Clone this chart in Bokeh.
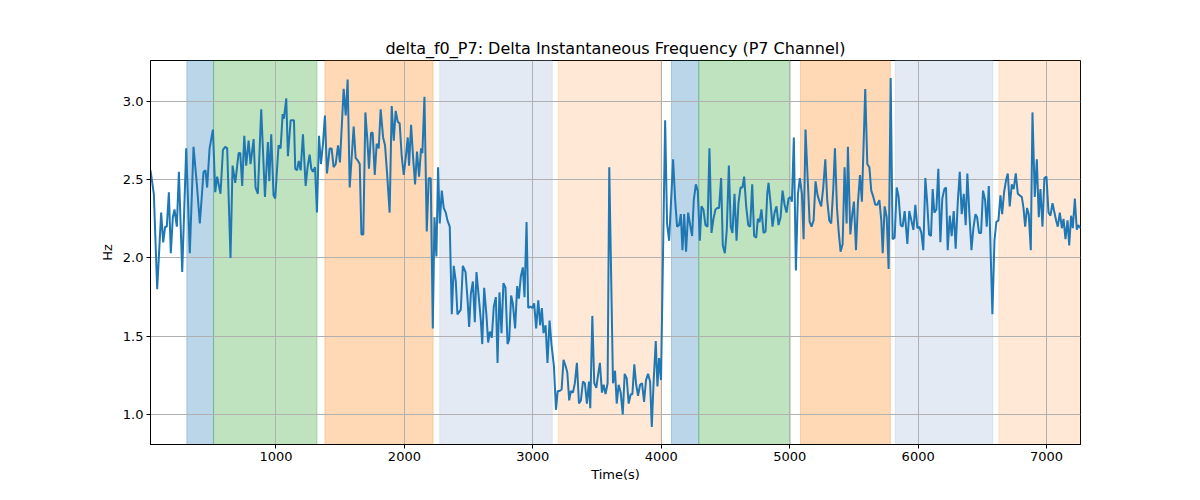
from bokeh.plotting import figure
from bokeh.models import ColumnDataSource, Range1d, BoxAnnotation, FixedTicker, PrintfTickFormatter
from bokeh.embed import file_html
from bokeh.resources import INLINE

# Time axis (s) and delta f0 (Hz)
time_s = [
    23, 49, 75, 106, 122, 137, 150, 166, 181, 197,
    210, 228, 244, 270, 301, 329, 358, 384, 407, 436,
    451, 464, 483, 509, 527, 542, 568, 587, 605, 620,
    646, 662, 683, 709, 722, 737, 753, 768, 787, 802,
    826, 841, 859, 885, 914, 937, 948, 963, 981, 994,
    1020, 1036, 1052, 1062, 1080, 1093, 1114, 1140, 1150, 1164,
    1177, 1192,
    1210, 1231, 1246, 1262, 1275, 1288, 1304, 1319, 1335, 1350,
    1366, 1381, 1397, 1418, 1433, 1449, 1465, 1483, 1498, 1527,
    1543, 1558, 1574, 1605, 1620, 1639, 1652, 1665, 1680, 1696,
    1711, 1724, 1740, 1753, 1769, 1784, 1800, 1815, 1834, 1849,
    1865, 1885, 1901, 1917, 1932, 1948, 1963, 1979, 1995, 2010,
    2026, 2036, 2052, 2067, 2083, 2098, 2114, 2130, 2140, 2156,
    2174, 2189, 2205, 2221, 2234, 2249, 2262, 2275, 2291, 2306,
    2322, 2335, 2353, 2369, 2384, 2400, 2413,
    2439, 2455, 2476, 2491, 2504, 2517, 2533, 2548, 2561, 2579,
    2595, 2606, 2621, 2639, 2652, 2665, 2680, 2696, 2712, 2725,
    2740, 2756, 2771, 2787, 2803, 2816, 2831, 2844, 2862, 2878,
    2891, 2906, 2922, 2935, 2951, 2964, 2979, 2995, 3010, 3026,
    3042, 3057, 3070, 3083, 3099, 3114, 3130, 3146, 3164, 3180,
    3193, 3208, 3224, 3239, 3255, 3268, 3283, 3296, 3312, 3327,
    3343, 3359, 3374, 3390, 3405, 3421, 3437, 3447, 3463, 3478,
    3494, 3509, 3522, 3538, 3551, 3566, 3582, 3595,
    3624, 3640, 3653, 3668, 3684, 3700, 3715, 3731, 3746, 3762,
    3775, 3790, 3803, 3819, 3835, 3850, 3866, 3881, 3897, 3913,
    3926, 3941, 3957, 3970, 3983, 3998, 4030, 4045, 4061, 4092,
    4108, 4123, 4139, 4152, 4165, 4178, 4193, 4209, 4225, 4240,
    4253, 4269, 4284, 4300, 4313, 4328, 4344, 4360, 4375, 4391,
    4406, 4422, 4438, 4450, 4466, 4479, 4495, 4510, 4526, 4541,
    4554, 4570, 4586, 4601, 4617, 4632, 4645, 4661, 4677, 4692,
    4708, 4723, 4739, 4752, 4765, 4780, 4796, 4812, 4825,
    4835, 4851, 4866, 4882, 4897, 4913, 4929, 4944, 4960, 4975,
    4991, 5006, 5017, 5032, 5048, 5064, 5079, 5095, 5108, 5123,
    5139, 5155, 5170, 5186, 5201, 5217, 5232, 5245, 5261, 5277,
    5292, 5308, 5323, 5339, 5352, 5368, 5381, 5396, 5412, 5427,
    5443, 5453, 5472, 5487, 5500, 5516, 5531, 5547, 5562, 5588,
    5604, 5620, 5635, 5651, 5666, 5682, 5698, 5713, 5724, 5739,
    5755, 5770, 5786, 5801, 5817, 5833, 5848, 5864, 5879, 5895,
    5916, 5931, 5947, 5963, 5978, 5994, 6009, 6025, 6040,
    6056, 6069, 6085, 6100, 6113, 6126, 6142, 6157, 6173, 6188,
    6204, 6217, 6230, 6246, 6261, 6277, 6292, 6308, 6324, 6339,
    6355, 6370, 6383, 6399, 6415, 6430, 6446, 6459, 6474, 6490,
    6505, 6521, 6534, 6550, 6578, 6594, 6609, 6625, 6641, 6654,
    6669, 6685, 6698, 6713, 6729, 6744, 6760, 6776, 6791, 6807,
    6820, 6833, 6848, 6861, 6877, 6890, 6908, 6924, 6939, 6952,
    6968, 6983, 6999, 7015, 7030, 7046, 7061, 7074, 7087, 7103,
    7119, 7132, 7147, 7163, 7176, 7191, 7204, 7220, 7235, 7246,
    7264,
]

delta_f0 = [
    2.56, 2.41, 1.80, 2.29, 2.10, 2.20, 2.20, 2.42, 2.03, 2.26,
    2.31, 2.20, 2.55, 1.91, 2.70, 2.03, 2.71, 2.47, 2.22, 2.55,
    2.56, 2.45, 2.70, 2.82, 2.42, 2.52, 2.41, 2.69, 2.71, 2.70,
    2.00, 2.59, 2.48, 2.67, 2.67, 2.46, 2.78, 2.59, 2.75, 2.60,
    2.76, 2.45, 2.41, 2.95, 2.39, 2.74, 2.49, 2.79, 2.40, 2.38,
    2.72, 2.70, 2.92, 2.89, 3.02, 2.65, 2.88, 2.88, 2.57, 2.56,
    2.62, 2.56,
    2.79, 2.46, 2.58, 2.66, 2.57, 2.55, 2.58, 2.29, 2.78, 2.60,
    2.73, 2.91, 2.54, 2.70, 2.70, 2.58, 2.60, 2.72, 2.61, 3.08,
    2.91, 3.14, 2.45, 2.84, 2.64, 2.62, 2.60, 2.15, 2.15, 2.93,
    2.76, 2.57, 2.80, 2.80, 2.53, 2.73, 2.70, 2.95, 2.77, 2.72,
    2.54, 2.29, 2.97, 2.75, 2.94, 2.87, 2.86, 2.65, 2.53, 2.64,
    2.77, 2.59, 2.85, 2.65, 2.47, 2.68, 2.52, 2.70, 2.67, 3.03,
    2.17, 2.51, 2.51, 1.55, 2.26, 2.01, 2.58, 2.22, 2.43, 2.32,
    2.29, 2.24, 2.20, 1.64, 1.95, 1.85, 1.64,
    1.67, 1.95, 1.91, 1.74, 1.56, 1.77, 1.85, 1.59, 1.91, 1.75,
    1.60, 1.45, 1.81, 1.63, 1.46, 1.53, 1.49, 1.69, 1.75, 1.33,
    1.78, 1.52, 1.84, 1.81, 1.45, 1.48, 1.76, 1.71, 1.55, 1.82,
    1.74, 1.88, 1.94, 1.75, 2.23, 1.68, 1.69, 1.68, 1.71, 1.55,
    1.73, 1.57, 1.68, 1.52, 1.57, 1.33, 1.60, 1.44, 1.31, 1.03,
    1.15, 1.15, 1.16, 1.35, 1.31, 1.27, 1.09, 1.15, 1.14, 1.20,
    1.33, 1.07, 1.09, 1.21, 1.20, 1.07, 1.21, 1.04, 1.63, 1.20,
    1.17, 1.26, 1.33, 1.14, 1.19, 1.13, 1.20, 2.58,
    1.20, 1.28, 1.07, 1.19, 1.14, 1.00, 1.26, 1.23, 1.07, 1.13,
    1.13, 1.32, 1.20, 1.12, 1.19, 1.20, 1.08, 1.22, 1.26, 1.21,
    0.92, 1.22, 1.47, 1.18, 1.36, 1.22, 2.88, 2.22, 2.11, 2.63,
    2.37, 2.20, 2.21, 2.28, 2.05, 2.28, 2.04, 2.29, 2.21, 2.14,
    2.37, 2.47, 2.43, 2.11, 2.33, 2.31, 2.21, 2.20, 2.70, 2.16,
    2.25, 2.31, 2.32, 2.32, 2.51, 2.08, 2.03, 2.18, 2.59, 2.20,
    2.16, 2.41, 2.11, 2.35, 2.45, 2.45, 2.52, 2.33, 2.21, 2.20,
    2.47, 2.14, 2.13, 2.25, 2.23, 2.31, 2.16, 2.17, 2.41,
    2.48, 2.35, 2.20, 2.29, 2.33, 2.21, 2.26, 2.43, 2.34, 2.29,
    2.38, 2.39, 2.36, 2.77, 1.92, 2.41, 2.51, 2.41, 2.12, 2.82,
    2.52, 2.23, 2.20, 2.24, 2.49, 2.40, 2.36, 2.33, 2.45, 2.63,
    2.37, 2.24, 2.22, 2.44, 2.70, 2.32, 2.17, 2.04, 2.09, 2.58,
    2.22, 2.71, 2.15, 2.28, 2.36, 2.05, 2.35, 2.53, 2.36, 3.08,
    2.60, 2.58, 2.43, 2.39, 2.34, 2.34, 2.37, 2.24, 2.03, 2.33,
    2.26, 1.93, 3.15, 2.12, 2.13, 2.45, 2.39, 2.21, 2.20, 2.30,
    2.09, 2.30, 2.24, 2.18, 2.34, 2.19, 2.20, 2.16, 2.05,
    2.51, 2.37, 2.15, 2.14, 2.44, 2.29, 2.31, 2.57, 2.10, 2.38,
    2.44, 2.45, 2.05, 2.27, 2.14, 2.30, 2.06, 2.35, 2.55, 2.28,
    2.41, 2.21, 2.54, 2.28, 2.05, 2.19, 2.28, 2.26, 2.16, 2.16,
    2.43, 2.37, 2.20, 2.46, 1.64, 2.11, 2.23, 2.24, 2.40, 2.28,
    2.42, 2.50, 2.54, 2.33, 2.47, 2.44, 2.54, 2.41, 2.40, 2.39,
    2.32, 2.20, 2.32, 2.28, 2.05, 2.93, 2.39, 2.63, 2.26, 2.44,
    2.20, 2.51, 2.52, 2.29, 2.27, 2.35, 2.29, 2.24, 2.20, 2.29,
    2.19, 2.25, 2.12, 2.24, 2.08, 2.27, 2.19, 2.38, 2.18, 2.21,
    2.19,
]

# shaded phases
phase_start = [306, 514, 1381, 2275, 3198, 4079, 4292, 5084, 5822, 6628]
phase_end = [514, 1319, 2223, 3151, 3998, 4292, 5004, 5783, 6581, 7300]
phase_color = ["#1f77b4", "#2ca02c", "#ff7f0e", "#b0c4de", "#ff7f0e",
               "#1f77b4", "#2ca02c", "#ff7f0e", "#b0c4de", "#ff7f0e"]
phase_alpha = [0.3, 0.3, 0.3, 0.35, 0.17, 0.3, 0.3, 0.3, 0.35, 0.17]

x_ticks = [1000, 2000, 3000, 4000, 5000, 6000, 7000]
y_ticks = [1.0, 1.5, 2.0, 2.5, 3.0]

lo, hi = min(delta_f0), max(delta_f0)
pad = (hi - lo) * 0.05

p = figure(width=1184, height=484, output_backend="svg", toolbar_location=None,
           x_range=Range1d(time_s[0], time_s[-1]),
           y_range=Range1d(lo - pad, hi + pad),
           min_border_left=150, min_border_right=104,
           min_border_top=60, min_border_bottom=39,
           title="delta_f0_P7: Delta Instantaneous Frequency (P7 Channel)")
p.background_fill_color = "white"
p.border_fill_color = "white"
p.outline_line_color = "black"
p.outline_line_alpha = 1.0

p.title.align = "center"
p.title.text_font = "DejaVu Sans"
p.title.text_font_size = "16px"
p.title.text_font_style = "normal"
p.title.text_color = "black"
p.title.standoff = 6

for s, e, c, a in zip(phase_start, phase_end, phase_color, phase_alpha):
    box = BoxAnnotation(left=s, right=e, fill_color=c, fill_alpha=a,
                        line_color=c, line_alpha=a, line_width=1, level="image")
    p.add_layout(box)

src = ColumnDataSource(data={"t": time_s, "hz": delta_f0})
p.line("t", "hz", source=src, line_color="#1f77b4", line_width=2)

p.xaxis.ticker = FixedTicker(ticks=x_ticks)
p.yaxis.ticker = FixedTicker(ticks=y_ticks)
p.yaxis.formatter = PrintfTickFormatter(format="%.1f")
p.xaxis.axis_label = "Time(s)"
p.yaxis.axis_label = "Hz"

for ax in (p.xaxis, p.yaxis):
    ax.axis_label_text_font = "DejaVu Sans"
    ax.axis_label_text_font_size = "13px"
    ax.axis_label_text_font_style = "normal"
    ax.axis_label_text_color = "black"
    ax.major_label_text_font = "DejaVu Sans"
    ax.major_label_text_font_size = "13px"
    ax.major_label_text_color = "black"
    ax.axis_line_color = "black"
    ax.major_tick_line_color = "black"
    ax.major_tick_out = 4
    ax.major_tick_in = 0
    ax.minor_tick_line_color = None
    ax.major_label_standoff = 3
    ax.axis_label_standoff = 5
p.xaxis.axis_label_standoff = 3

p.grid.grid_line_color = "#b0b0b0"
p.grid.grid_line_width = 1

open("out.html", "w").write(file_html(p, INLINE))
